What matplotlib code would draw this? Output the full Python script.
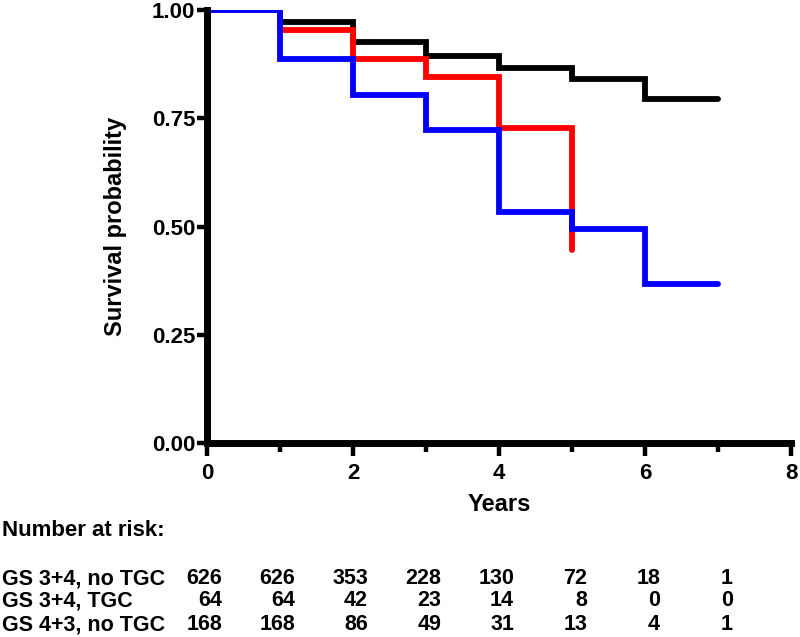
import matplotlib
matplotlib.use("Agg")
import matplotlib.pyplot as plt
import matplotlib.transforms as mtransforms

plt.rcParams['font.family'] = ['Liberation Sans', 'DejaVu Sans']
plt.rcParams['font.weight'] = 'bold'

years = [0, 1, 2, 3, 4, 5, 6, 7]
surv_34_notgc = [1.00, 0.972, 0.927, 0.894, 0.867, 0.841, 0.794, 0.794]
years_tgc = [0, 1, 2, 3, 4, 5]
surv_34_tgc = [1.00, 0.955, 0.887, 0.846, 0.727, 0.446]
surv_43_notgc = [1.00, 0.887, 0.804, 0.724, 0.534, 0.494, 0.369, 0.369]

groups = ["GS 3+4, no TGC", "GS 3+4, TGC", "GS 4+3, no TGC"]
risk_34_notgc = [626, 626, 353, 228, 130, 72, 18, 1]
risk_34_tgc = [64, 64, 42, 23, 14, 8, 0, 0]
risk_43_notgc = [168, 168, 86, 49, 31, 13, 4, 1]

fig = plt.figure(figsize=(8, 6.37), dpi=100)
ax = fig.add_axes([0.2588, 0.3038, 0.7300, 0.6805])

lw = 4.2
ax.step(years, surv_34_notgc, where='post', color='black', lw=lw,
        solid_capstyle='round', solid_joinstyle='miter', zorder=3)
ax.step(years_tgc, surv_34_tgc, where='post', color='#ff0000', lw=lw,
        solid_capstyle='round', solid_joinstyle='miter', zorder=4)
ax.step(years, surv_43_notgc, where='post', color='#0000ff', lw=lw,
        solid_capstyle='round', solid_joinstyle='miter', zorder=5)

ax.set_xlim(0, 8)
ax.set_ylim(0, 1.0)
ax.set_xticks([0, 2, 4, 6, 8])
ax.set_xticks([1, 3, 5, 7], minor=True)
ax.set_yticks([0, 0.25, 0.5, 0.75, 1.0])
ax.set_yticklabels(["0.00", "0.25", "0.50", "0.75", "1.00"])
for s in ['top', 'right']:
    ax.spines[s].set_visible(False)
for s in ['left', 'bottom']:
    ax.spines[s].set_linewidth(5)
    ax.spines[s].set_zorder(6)
ax.tick_params(axis='x', which='major', width=3.2, length=9, labelsize=16, pad=5)
ax.tick_params(axis='x', which='minor', width=3.2, length=6.5)
ax.tick_params(axis='y', which='major', width=3.2, length=7, labelsize=16, pad=1.5)
for lab in ax.get_xticklabels() + ax.get_yticklabels():
    lab.set_fontweight('bold')

ax.set_xlabel("Years", fontsize=17, fontweight='bold')
ax.xaxis.set_label_coords(0.5, -0.114)
ax.set_ylabel("Survival probability", fontsize=17, fontweight='bold')
ax.yaxis.set_label_coords(-0.137, 0.5)

fig.text(0.003, 1 - 530/637, "Number at risk:", fontsize=16, fontweight='bold',
         va='center', ha='left')
row_y = [579, 601, 625]
col_trans = mtransforms.blended_transform_factory(ax.transData, fig.transFigure)
col_trans = col_trans + mtransforms.ScaledTranslation(15/100, 0, fig.dpi_scale_trans)
for ry, g, vals in zip(row_y, groups, [risk_34_notgc, risk_34_tgc, risk_43_notgc]):
    fig.text(0.003, 1 - ry/637, g, fontsize=15.5, fontweight='bold', va='center', ha='left')
    for t, v in zip(years, vals):
        fig.text(t, 1 - ry/637, str(v), fontsize=15.5, fontweight='bold',
                 va='center', ha='right', transform=col_trans)

fig.savefig("out.png", dpi=100)
